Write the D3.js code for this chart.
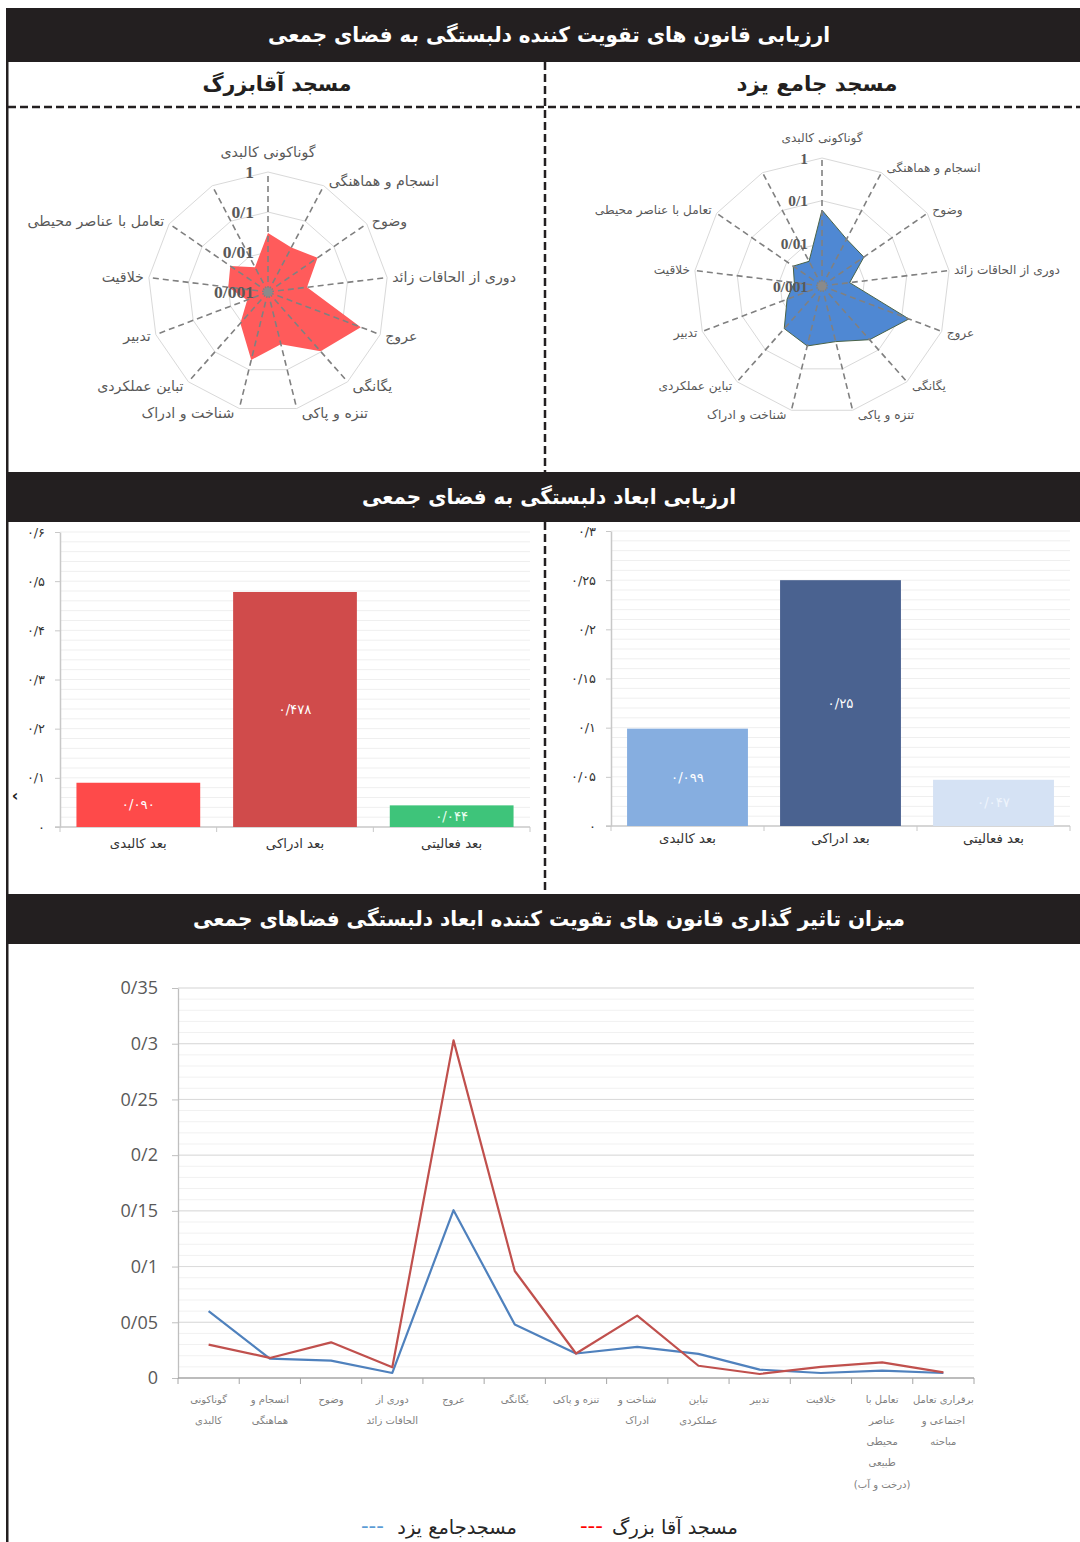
<!DOCTYPE html>
<html><head><meta charset="utf-8">
<script src="https://cdn.jsdelivr.net/npm/d3@7"></script>
<style>body{margin:0;background:#fff}svg{display:block}</style>
</head><body>
<svg id="c" width="1080" height="1542"></svg>
<script>
// ---------------- DATA ----------------
const titleTop = "ارزیابی قانون های تقویت کننده دلبستگی به فضای جمعی";
const titleMid = "ارزیابی ابعاد دلبستگی به فضای جمعی";
const titleBottom = "میزان تاثیر گذاری قانون های تقویت کننده ابعاد دلبستگی فضاهای جمعی";
const mosqueAgha = "مسجد آقابزرگ";
const mosqueYazd = "مسجد جامع یزد";

const radarLabels = ["گوناکونی کالبدی","انسجام و هماهنگی","وضوح","دوری از الحاقات زائد","عروج","یگانگی","تنزه و پاکی","شناخت و ادراک","تباین عملکردی","تدبیر","خلاقیت","تعامل با عناصر محیطی",""];
const radarTicks = [0.001, 0.01, 0.1, 1];
const radarTickLabels = ["0/001","0/01","0/1","1"];

const lineLabels = [
  ["گوناکونی","کالبدی"],["انسجام و","هماهنگی"],["وضوح"],["دوری از","الحاقات زائد"],["عروج"],["یگانگی"],
  ["تنزه و پاکی"],["شناخت و","ادراک"],["تباین","عملکردی"],["تدبیر"],["خلاقیت"],
  ["تعامل با","عناصر","محیطی","طبیعی","(درخت و آب)"],["برقراری تعامل","اجتماعی و","مباحثه"]
];
const aghaBozorg = [0.030,0.018,0.032,0.0096,0.303,0.096,0.022,0.056,0.011,0.0036,0.010,0.014,0.005];
const jameYazd   = [0.060,0.0174,0.0156,0.0045,0.1506,0.048,0.022,0.028,0.0216,0.0075,0.0045,0.0066,0.0045];
const lineTicks = [0,0.05,0.1,0.15,0.2,0.25,0.3,0.35];
const lineTickLabels = ["0","0/05","0/1","0/15","0/2","0/25","0/3","0/35"];
const legendAgha = "مسجد آقا بزرگ";
const legendYazd = "مسجدجامع یزد";

const dimensions = ["بعد کالبدی","بعد ادراکی","بعد فعالیتی"];
const dimAgha = [0.090, 0.478, 0.044];
const dimAghaLabels = ["۰/۰۹۰","۰/۴۷۸","۰/۰۴۴"];
const dimYazd = [0.099, 0.25, 0.047];
const dimYazdLabels = ["۰/۰۹۹","۰/۲۵","۰/۰۴۷"];
const barTicksAgha = [0,0.1,0.2,0.3,0.4,0.5,0.6];
const barTickLabelsAgha = ["۰","۰/۱","۰/۲","۰/۳","۰/۴","۰/۵","۰/۶"];
const barTicksYazd = [0,0.05,0.1,0.15,0.2,0.25,0.3];
const barTickLabelsYazd = ["۰","۰/۰۵","۰/۱","۰/۱۵","۰/۲","۰/۲۵","۰/۳"];

// ---------------- SETUP ----------------
const W = 1080, H = 1542;
const INK = "#231f20";
const FA = "'DejaVu Sans', sans-serif";
const svg = d3.select("#c");
svg.append("rect").attr("width", W).attr("height", H).attr("fill", "#fff");

function measure(str, family, weight){
  const t = svg.append("text").attr("font-family", family).attr("font-weight", weight||"normal").attr("font-size", 100).text(str);
  const w = t.node().getComputedTextLength(); t.remove(); return w || 1;
}
function sizeFor(str, target, family, weight){ return 100 * target / measure(str, family, weight); }

// ---------------- FRAMES / HEADERS ----------------
function boldText(x, y, text, target, size, color){
  svg.append("text").attr("x", x).attr("y", y).attr("text-anchor","middle").attr("dominant-baseline","central")
    .attr("fill", color).attr("font-family", FA).attr("font-weight","bold")
    .attr("font-size", size).attr("textLength", target).attr("lengthAdjust","spacingAndGlyphs").text(text);
}
function header(y0, y1, text, target){
  svg.append("rect").attr("x", 6).attr("y", y0).attr("width", W-6).attr("height", y1-y0).attr("fill", INK);
  boldText(549, (y0+y1)/2, text, target, 21, "#fff");
}
header(8, 62, titleTop, 562);
header(472, 522, titleMid, 374);
header(894, 944, titleBottom, 712);

svg.append("rect").attr("x", 6).attr("y", 8).attr("width", 2.5).attr("height", H-8).attr("fill", INK);
svg.append("line").attr("x1", 8).attr("x2", W).attr("y1", 107).attr("y2", 107)
  .attr("stroke", INK).attr("stroke-width", 2.5).attr("stroke-dasharray","8,4");
[[62,472],[522,894]].forEach(([a,b])=>{
  svg.append("line").attr("x1",545).attr("x2",545).attr("y1",a).attr("y2",b)
    .attr("stroke",INK).attr("stroke-width",2.5).attr("stroke-dasharray","8,4");
});
boldText(277, 84, mosqueAgha, 149, 21, INK);
boldText(817, 84, mosqueYazd, 161, 21, INK);

// ---------------- RADARS ----------------
function drawRadar(cx, cy, R, values, fill, stroke, labelTarget, tickTarget){
  const g = svg.append("g").attr("transform",`translate(${cx},${cy})`);
  const r = d3.scaleLog().domain([radarTicks[0], radarTicks[radarTicks.length-1]]).range([0, R]);
  const n = radarLabels.length, step = 2*Math.PI/n;
  const ring = d3.lineRadial().curve(d3.curveLinearClosed);
  radarTicks.slice(1).forEach(t=>{
    g.append("path").attr("d", ring(d3.range(n).map(i=>[i*step, r(t)])))
      .attr("fill","none").attr("stroke","#d9d9d9").attr("stroke-width",1);
  });
  const area = d3.lineRadial().angle((d,i)=>i*step).radius(d=>r(d)).curve(d3.curveLinearClosed);
  g.append("path").attr("d", area(values)).attr("fill", fill)
    .attr("stroke", stroke||"none").attr("stroke-width", 1);
  d3.range(n).forEach(i=>{
    const a = i*step;
    g.append("line").attr("x1",0).attr("y1",0).attr("x2",R*Math.sin(a)).attr("y2",-R*Math.cos(a))
      .attr("stroke","#808080").attr("stroke-width",1.6).attr("stroke-dasharray","6,4");
  });
  g.append("circle").attr("r",4.5).attr("fill","#8a8a8a");
  const fs = sizeFor(radarLabels[3], labelTarget, FA);
  radarLabels.forEach((lab,i)=>{
    if(!lab) return;
    const a = i*step, s = Math.sin(a), c = Math.cos(a);
    const vx = R*s, vy = -R*c;
    let x, y, anchor;
    if (Math.abs(s) < 0.2 && c > 0){ x = vx; y = vy - 20; anchor = "middle"; }
    else { x = vx + (s>0?5:-5); y = vy - c*5; anchor = s>0 ? "start" : "end"; }
    g.append("text").attr("x",x).attr("y",y).attr("text-anchor",anchor).attr("dominant-baseline","central")
      .attr("font-family",FA).attr("font-size",fs).attr("fill","#595959").text(lab);
  });
  const tfs = sizeFor("0/001", tickTarget, "'Liberation Serif', serif", "bold");
  radarTicks.forEach((t,i)=>{
    g.append("text").attr("x",-14).attr("y",-r(t)).attr("text-anchor","end").attr("dominant-baseline","central")
      .attr("font-family","'Liberation Serif', serif").attr("font-weight","bold").attr("font-size",tfs)
      .attr("fill","#595959").text(radarTickLabels[i]);
  });
}
drawRadar(268, 292, 120, aghaBozorg, "#ff5b5b", null, 124, 40);
drawRadar(822, 286, 128, jameYazd, "#4f88d3", "#4a6348", 106, 35);

// ---------------- BAR CHARTS ----------------
function drawBars(opt){
  const {x0,x1,yBase,yTop,max,minorStep,values,valueLabels,ticks,tickLabels,colors,labelColors,catY} = opt;
  const x = d3.scaleBand().domain(d3.range(dimensions.length)).range([x0,x1]).paddingInner(0.21).paddingOuter(0.105);
  const y = d3.scaleLinear().domain([0,max]).range([yBase,yTop]);
  const g = svg.append("g");
  d3.range(minorStep, max+1e-9, minorStep).forEach(v=>{
    g.append("line").attr("x1",x0).attr("x2",x1).attr("y1",y(v)).attr("y2",y(v)).attr("stroke","#efefef").attr("stroke-width",1);
  });
  const tfs = sizeFor("۰/۲۵", 25, FA);
  const ax = g.append("g").attr("transform",`translate(${x0},0)`)
    .call(d3.axisLeft(y).tickValues(ticks).tickFormat((d,i)=>tickLabels[i]).tickSize(5).tickPadding(10).tickSizeOuter(0));
  ax.select(".domain").attr("stroke","#c8c8c8").attr("stroke-width",1.5);
  ax.selectAll(".tick line").attr("stroke","#c8c8c8");
  ax.selectAll(".tick text").attr("font-family",FA).attr("font-size",tfs).attr("fill","#333");
  // x axis
  g.append("line").attr("x1",x0-5).attr("x2",x1).attr("y1",yBase).attr("y2",yBase).attr("stroke","#c8c8c8").attr("stroke-width",1.5);
  d3.range(dimensions.length+1).forEach(i=>{
    const xx = x0 + i*(x1-x0)/dimensions.length;
    g.append("line").attr("x1",xx).attr("x2",xx).attr("y1",yBase).attr("y2",yBase+5).attr("stroke","#c8c8c8");
  });
  g.selectAll("rect.bar").data(values).join("rect").attr("class","bar")
    .attr("x",(d,i)=>x(i)).attr("width",x.bandwidth()).attr("y",d=>y(d)).attr("height",d=>yBase-y(d))
    .attr("fill",(d,i)=>colors[i]);
  const vfs = sizeFor("۰/۴۷۸", 33, FA);
  g.selectAll("text.val").data(values).join("text").attr("class","val")
    .attr("x",(d,i)=>x(i)+x.bandwidth()/2).attr("y",d=>(y(d)+yBase)/2).attr("text-anchor","middle").attr("dominant-baseline","central")
    .attr("font-family",FA).attr("font-size",vfs).attr("fill",(d,i)=>labelColors[i]).text((d,i)=>valueLabels[i]);
  const cfs = sizeFor(dimensions[0], 57, FA);
  g.selectAll("text.cat").data(dimensions).join("text").attr("class","cat")
    .attr("x",(d,i)=>x(i)+x.bandwidth()/2).attr("y",catY).attr("text-anchor","middle").attr("dominant-baseline","central")
    .attr("font-family",FA).attr("font-size",cfs).attr("fill","#333").text(d=>d);
}
drawBars({x0:60,x1:530,yBase:827,yTop:532,max:0.6,minorStep:0.02,values:dimAgha,valueLabels:dimAghaLabels,
  ticks:barTicksAgha,tickLabels:barTickLabelsAgha,colors:["#fe4a4a","#d04b4b","#3ec47a"],labelColors:["#fff","#fff","#eafff0"],catY:843});
drawBars({x0:611,x1:1070,yBase:826,yTop:531,max:0.3,minorStep:0.01,values:dimYazd,valueLabels:dimYazdLabels,
  ticks:barTicksYazd,tickLabels:barTickLabelsYazd,colors:["#86aee0","#4a6290","#d5e2f4"],labelColors:["#fff","#fff","#eef4fc"],catY:838});
svg.append("text").attr("x",15).attr("y",795).attr("text-anchor","middle").attr("dominant-baseline","central")
  .attr("font-family",FA).attr("font-weight","bold").attr("font-size",16).attr("fill","#222").text("‹");

// ---------------- LINE CHART ----------------
(function(){
  const x0 = 178, x1 = 974, yb = 1378, yt = 988;
  const x = d3.scaleBand().domain(d3.range(lineLabels.length)).range([x0,x1]);
  const y = d3.scaleLinear().domain([0,0.35]).range([yb,yt]);
  const g = svg.append("g");
  d3.range(0.01, 0.35+1e-9, 0.01).forEach(v=>{
    g.append("line").attr("x1",x0).attr("x2",x1).attr("y1",y(v)).attr("y2",y(v)).attr("stroke","#f1f1f1");
  });
  lineTicks.slice(1).forEach(v=>{
    g.append("line").attr("x1",x0).attr("x2",x1).attr("y1",y(v)).attr("y2",y(v)).attr("stroke","#dadada");
  });
  const ax = g.append("g").attr("transform",`translate(${x0},0)`)
    .call(d3.axisLeft(y).tickValues(lineTicks).tickFormat((d,i)=>lineTickLabels[i]).tickSize(6).tickPadding(14).tickSizeOuter(0));
  ax.select(".domain").attr("stroke","#bfbfbf").attr("stroke-width",1.3);
  ax.selectAll(".tick line").attr("stroke","#bfbfbf");
  ax.selectAll(".tick text").attr("font-family","'Open Sans', sans-serif").attr("font-size",18).attr("fill","#595959");
  g.append("line").attr("x1",x0).attr("x2",x1).attr("y1",yb).attr("y2",yb).attr("stroke","#a6a6a6").attr("stroke-width",1.3);
  d3.range(lineLabels.length+1).forEach(i=>{
    const xx = x0 + i*x.step();
    g.append("line").attr("x1",xx).attr("x2",xx).attr("y1",yb).attr("y2",yb+6).attr("stroke","#a6a6a6");
  });
  const lfs = sizeFor("برقراری تعامل", 61, FA);
  lineLabels.forEach((lines,i)=>{
    const t = g.append("text").attr("text-anchor","middle").attr("font-family",FA).attr("font-size",lfs).attr("fill","#808080");
    lines.forEach((ln,k)=>{
      t.append("tspan").attr("x", x(i)+x.bandwidth()/2).attr("y", 1399 + k*21.3).attr("dominant-baseline","central").text(ln);
    });
  });
  const line = d3.line().x((d,i)=>x(i)+x.bandwidth()/2).y(d=>y(d));
  g.append("path").attr("d",line(jameYazd)).attr("fill","none").attr("stroke","#4f81bd").attr("stroke-width",2.2).attr("stroke-linejoin","round");
  g.append("path").attr("d",line(aghaBozorg)).attr("fill","none").attr("stroke","#c0504d").attr("stroke-width",2.2).attr("stroke-linejoin","round");
  // legend
  const gfs = sizeFor(legendAgha, 126, FA);
  [[legendAgha,738,603,"#ff0000"],[legendYazd,517,384,"#5b9bd5"]].forEach(([t,xe,xd,col])=>{
    svg.append("text").attr("x",xe).attr("y",1527).attr("text-anchor","end").attr("dominant-baseline","central")
      .attr("font-family",FA).attr("font-size",gfs).attr("fill","#262626").text(t);
    svg.append("text").attr("x",xd).attr("y",1525).attr("text-anchor","end").attr("dominant-baseline","central")
      .attr("font-family",FA).attr("font-size",gfs*1.1).attr("fill",col).text("---");
  });
})();
</script>
</body></html>
